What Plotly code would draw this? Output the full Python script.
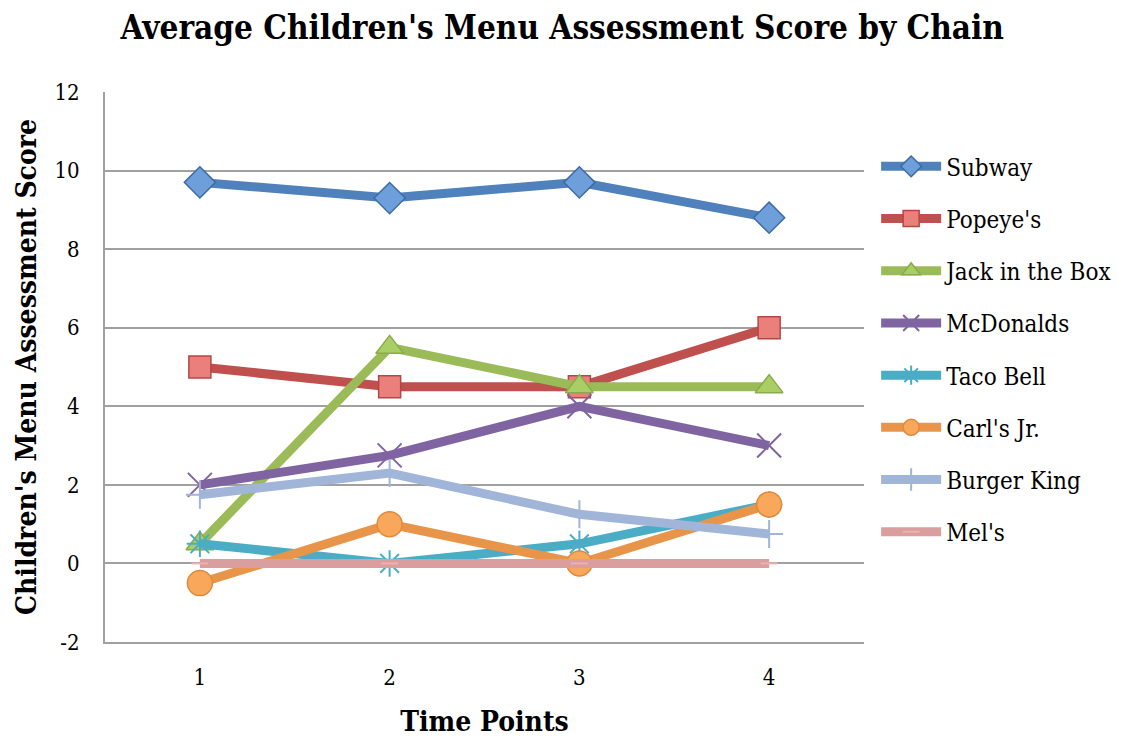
import plotly.graph_objects as go

time_points = [1, 2, 3, 4]
y_ticks = [-2, 0, 2, 4, 6, 8, 10, 12]
y_tick_labels = ["-2", "0", "2", "4", "6", "8", "10", "12"]
subway = [9.7, 9.3, 9.7, 8.8]
popeyes = [5.0, 4.5, 4.5, 6.0]
jack_in_the_box = [0.5, 5.5, 4.5, 4.5]
mcdonalds = [2.0, 2.75, 4.0, 3.0]
taco_bell = [0.5, 0.0, 0.5, 1.5]
carls_jr = [-0.5, 1.0, 0.0, 1.5]
burger_king = [1.75, 2.3, 1.25, 0.75]
mels = [0.0, 0.0, 0.0, 0.0]

series = [
    ("Subway", subway, "#4F81BD", "diamond", 24, "#6E9FDB", "#3D6CA3"),
    ("Popeye's", popeyes, "#C0504D", "square", 22, "#EB7F7C", "#B24845"),
    ("Jack in the Box", jack_in_the_box, "#9BBB59", "triangle-up", 24, "#A9CE66", "#8AAA4C"),
    ("McDonalds", mcdonalds, "#8064A2", "x-thin-open", 24, "#8064A2", "#8064A2"),
    ("Taco Bell", taco_bell, "#4BACC6", "asterisk-open", 22, "#4BACC6", "#4BACC6"),
    ("Carl's Jr.", carls_jr, "#E8954A", "circle", 25, "#F9A75A", "#E08A3C"),
    ("Burger King", burger_king, "#A0B5D8", "cross-thin-open", 20, "#A0B5D8", "#A0B5D8"),
    ("Mel's", mels, "#DA9E9E", "line-ew-open", 12, "#F0B0B0", "#E8A0A0"),
]

fig = go.Figure()
for i, (name, vals, color, sym, size, fill, border) in enumerate(series):
    fig.add_trace(go.Scatter(
        x=time_points, y=vals, name=name, mode="lines+markers",
        legendgroup=f"g{i}",
        line=dict(color=color, width=9),
        marker=dict(symbol=sym, size=size, color=fill,
                    line=dict(color=border, width=1.5 if "open" not in sym else 2)),
    ))

font_family = "DejaVu Serif Condensed, Liberation Serif, serif"
fig.update_layout(
    width=1122, height=736,
    paper_bgcolor="white", plot_bgcolor="white",
    margin=dict(l=97, r=264, t=84, b=102),
    title=dict(text="<b>Average Children's Menu Assessment Score by Chain</b>",
               x=0.494, xanchor="center", y=0.974, yanchor="middle",
               font=dict(family=font_family, size=33, color="black")),
    font=dict(family=font_family, color="black"),
    showlegend=True,
    legend=dict(x=1.016, xanchor="left", y=0.905, yanchor="top",
                traceorder="grouped", tracegroupgap=18,
                font=dict(family=font_family, size=24, color="black"),
                itemwidth=60),
)
fig.update_xaxes(
    range=[0.5, 4.5], tickvals=time_points, ticktext=[str(t) for t in time_points],
    showgrid=False, zeroline=False, showline=True, linecolor="#A0A0A0", linewidth=2,
    ticks="", tickfont=dict(family=font_family, size=22, color="black"), ticklabelstandoff=15,
    title=dict(text="<b>Time Points</b>", font=dict(family=font_family, size=28, color="black"), standoff=22),
)
fig.update_yaxes(
    range=[-2, 12], tickvals=y_ticks, ticktext=y_tick_labels,
    showgrid=True, gridcolor="#A0A0A0", gridwidth=2, zeroline=False,
    showline=True, linecolor="#A0A0A0", linewidth=2, ticks="",
    tickfont=dict(family=font_family, size=22, color="black"), ticklabelstandoff=19,
    title=dict(text="<b>Children's Menu Assessment Score</b>", font=dict(family=font_family, size=28, color="black"), standoff=10),
)
fig.write_html("out.html")
